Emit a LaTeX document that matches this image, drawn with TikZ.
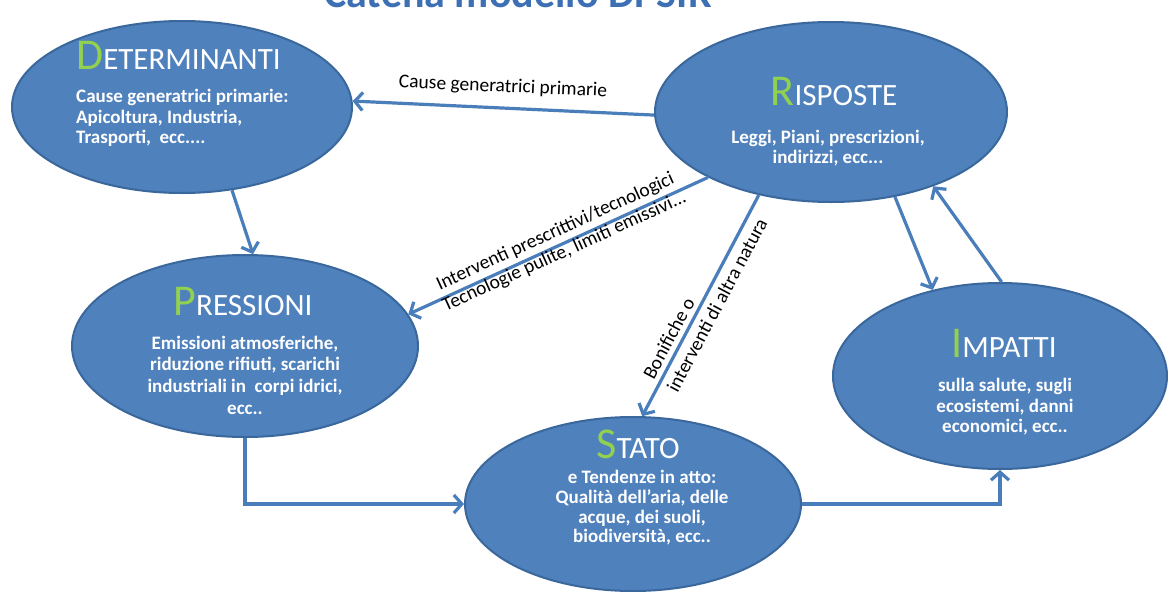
\documentclass[tikz,border=0pt]{standalone}
\usepackage{fontspec}
\setmainfont{Carlito}
\usetikzlibrary{shapes.geometric,arrows.meta}
\definecolor{ellfill}{HTML}{4F81BD}
\definecolor{elldraw}{HTML}{3A679C}
\definecolor{arrowc}{HTML}{4A7EBB}
\definecolor{greenL}{HTML}{92D050}
\definecolor{titleblue}{HTML}{3D6FB5}
\newcommand{\initial}[1]{{\color{greenL}\fontsize{44}{46}\selectfont #1}}
\tikzset{
  blob/.style={ellipse, fill=ellfill, draw=elldraw, line width=2pt, inner sep=0pt},
  conn/.style={draw=arrowc, line width=3.2pt, -{Straight Barb[length=8pt,width=18pt]}},
  ttl/.style={text=white, font=\fontsize{31}{33}\selectfont, inner sep=0pt, anchor=base},
  body/.style={text=white, font=\bfseries\fontsize{19}{20.5}\selectfont, inner sep=0pt, align=center},
  lbl/.style={text=black, font=\fontsize{19.5}{20}\selectfont, inner sep=0pt},
}
\begin{document}
\begin{tikzpicture}[x=1pt,y=-1pt]
\useasboundingbox (0,0) rectangle (1168,592);
\fill[white] (0,0) rectangle (1168,592);
\begin{scope}
  \clip (0,0) rectangle (1168,592);
  \node[font=\bfseries\fontsize{42}{44}\selectfont, text=titleblue, anchor=base, inner sep=0pt] (title) at (518,7) {Catena modello DPSIR};
\end{scope}

% ellipses
\node[blob, minimum width=340pt, minimum height=172pt] (D) at (182,107) {};
\node[blob, minimum width=352pt, minimum height=180pt] (R) at (831,112) {};
\node[blob, minimum width=346pt, minimum height=182pt] (P) at (245,346) {};
\node[blob, minimum width=334pt, minimum height=186pt] (I) at (1000,376) {};
\node[blob, minimum width=336pt, minimum height=174pt] (S) at (633,504) {};

% connectors
\draw[conn] (R.181) -- (D.2);
\draw[conn] (D.-59) -- (P.85);
\draw[conn] (R.208) -- (P.11);
\draw[conn] (R.229.5) -- (S.84);
\draw[conn] (R.-53) -- (I.128);
\draw[conn] (I.89) -- (R.-36);
\draw[conn] (P.south) |- (S.west);
\draw[conn] (S.east) -| (I.south);

% titles
\node[ttl, anchor=base west] (Dt) at (76,69) {\initial{D}ETERMINANTI};
\node[ttl] (Rt) at (834,105) {\initial{R}ISPOSTE};
\node[ttl] (Pt) at (243,315) {\initial{P}RESSIONI};
\node[ttl] (It) at (1004,357) {\initial{I}MPATTI};
\node[ttl] (St) at (638,458) {\initial{S}TATO};

% bodies
\node[body, align=left, anchor=west] (Db) at (76,118) {Cause generatrici primarie:\\Apicoltura, Industria,\\Trasporti,\ \ ecc....};
\node[body] (Rb) at (828,148) {Leggi, Piani, prescrizioni,\\indirizzi, ecc...};
\node[body, font=\bfseries\fontsize{19}{21.7}\selectfont] (Pb) at (245,375) {Emissioni atmosferiche,\\riduzione rifiuti, scarichi\\industriali in\ \ corpi idrici,\\ecc..};
\node[body] (Ib) at (1005,407) {sulla salute, sugli\\ecosistemi, danni\\economici, ecc..};
\node[body, font=\bfseries\fontsize{19}{19.7}\selectfont] (Sb) at (642,508) {e Tendenze in atto:\\Qualit\`a dell'aria, delle\\acque, dei suoli,\\biodiversit\`a, ecc..};

% connector labels
\node[lbl, rotate=-2.5] (L1) at (503,87) {Cause generatrici primarie};
\node[lbl, rotate=24.5, align=center, font=\fontsize{19.5}{22}\selectfont] (L2) at (560,242) {Interventi prescrittivi/tecnologici\\Tecnologie pulite, limiti emissivi...};
\node[lbl, rotate=62, align=left, font=\fontsize{19.5}{27}\selectfont] (L3) at (705,298.5) {Bonifiche o\\interventi di altra natura};
\end{tikzpicture}
\end{document}
